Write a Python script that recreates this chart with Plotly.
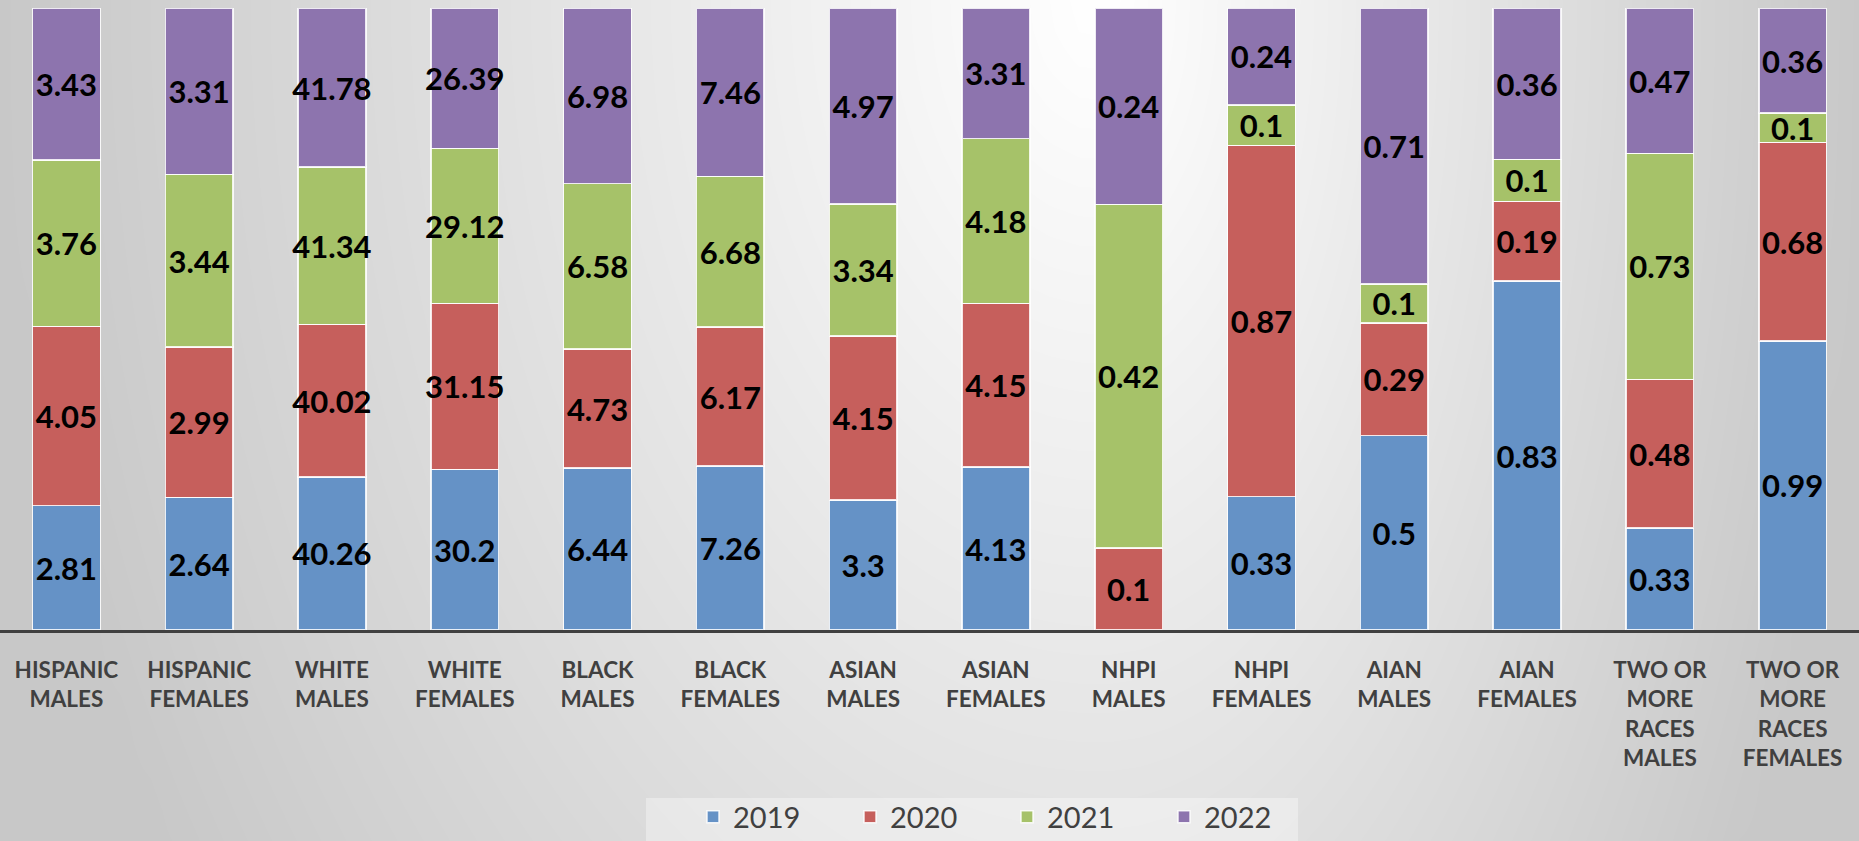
import numpy as np
import plotly.graph_objects as go

# Groups along the x axis
groups = [
    "Hispanic Males", "Hispanic Females", "White Males", "White Females",
    "Black Males", "Black Females", "Asian Males", "Asian Females",
    "NHPI Males", "NHPI Females", "AIAN Males", "AIAN Females",
    "Two or More Races Males", "Two or More Races Females",
]
tick_labels = [
    "HISPANIC<br>MALES", "HISPANIC<br>FEMALES", "WHITE<br>MALES", "WHITE<br>FEMALES",
    "BLACK<br>MALES", "BLACK<br>FEMALES", "ASIAN<br>MALES", "ASIAN<br>FEMALES",
    "NHPI<br>MALES", "NHPI<br>FEMALES", "AIAN<br>MALES", "AIAN<br>FEMALES",
    "TWO OR<br>MORE<br>RACES<br>MALES", "TWO OR<br>MORE<br>RACES<br>FEMALES",
]

# Values per year
years = ["2019", "2020", "2021", "2022"]
v2019 = [2.81, 2.64, 40.26, 30.2, 6.44, 7.26, 3.3, 4.13, 0, 0.33, 0.5, 0.83, 0.33, 0.99]
v2020 = [4.05, 2.99, 40.02, 31.15, 4.73, 6.17, 4.15, 4.15, 0.1, 0.87, 0.29, 0.19, 0.48, 0.68]
v2021 = [3.76, 3.44, 41.34, 29.12, 6.58, 6.68, 3.34, 4.18, 0.42, 0.1, 0.1, 0.1, 0.73, 0.1]
v2022 = [3.43, 3.31, 41.78, 26.39, 6.98, 7.46, 4.97, 3.31, 0.24, 0.24, 0.71, 0.36, 0.47, 0.36]
series = [v2019, v2020, v2021, v2022]
colors = ["#6592c6", "#c65f5c", "#a6c269", "#8d74ae"]

W, H = 1859, 841

# Soft radial backdrop (light centre near the top, grey towards the edges)
bx = np.linspace(0, W, 63)
by = np.linspace(0, H, 29)
BX, BY = np.meshgrid(bx, by)
rx = np.where(BX < 1100, 1100.0, 760.0)
rr = np.sqrt(((BX - 1100) / rx) ** 2 + (BY / 1600.0) ** 2)
shade = 200 + 55 * (1 - np.clip(rr, 0, 1))

fig = go.Figure()
fig.add_trace(go.Heatmap(
    x=bx, y=by, z=shade, zmin=0, zmax=255, zsmooth="best",
    colorscale=[[0, "rgb(0,0,0)"], [1, "rgb(255,255,255)"]],
    showscale=False, hoverinfo="skip", xaxis="x", yaxis="y",
))

for name, vals, col in zip(years, series, colors):
    fig.add_trace(go.Bar(
        name=name, x=groups, y=vals, xaxis="x2", yaxis="y2",
        marker=dict(color=col, line=dict(color="rgba(255,255,255,0.85)", width=1.5)),
        text=[("" if v == 0 else f"{v:g}") for v in vals],
        textposition="inside", insidetextanchor="middle", textangle=0,
        textfont=dict(family="Lato", size=31, color="#000000", weight="bold"),
        cliponaxis=False,
    ))

plot_bottom = 630
plot_top = 8

fig.update_layout(
    width=W, height=H,
    margin=dict(l=0, r=0, t=0, b=0, autoexpand=False),
    paper_bgcolor="#dcdcdc",
    plot_bgcolor="rgba(0,0,0,0)",
    barmode="stack", barnorm="percent", bargap=0.49,
    uniformtext=dict(minsize=31, mode="show"),
    hovermode=False,
    xaxis=dict(domain=[0, 1], range=[0, W], visible=False, fixedrange=True),
    yaxis=dict(domain=[0, 1], range=[H, 0], visible=False, fixedrange=True),
    xaxis2=dict(
        domain=[0, 1], anchor="y2", type="category",
        tickmode="array", tickvals=groups, ticktext=tick_labels,
        showline=True, linecolor="#404040", linewidth=3,
        ticks="", showgrid=False, zeroline=False,
        tickfont=dict(family="Lato", size=22.5, color="#404040", weight="bold"),
        ticklabelstandoff=18,
    ),
    yaxis2=dict(
        domain=[1 - plot_bottom / H, 1 - plot_top / H], anchor="x2",
        range=[0, 100.0001], visible=False,
    ),
    showlegend=True,
    legend=dict(
        orientation="h", x=693 / W, xanchor="left", y=1 - 817 / H, yanchor="middle",
        font=dict(family="Lato", size=29, color="#404040"),
        bgcolor="rgba(0,0,0,0)", traceorder="normal",
        entrywidth=112, entrywidthmode="pixels",
    ),
    shapes=[dict(
        type="rect", xref="paper", yref="paper",
        x0=646 / W, x1=1298 / W, y0=0, y1=1 - 798 / H,
        fillcolor="rgba(255,255,255,0.35)", line=dict(width=0), layer="above",
    )],
)

fig.write_html("out.html")
